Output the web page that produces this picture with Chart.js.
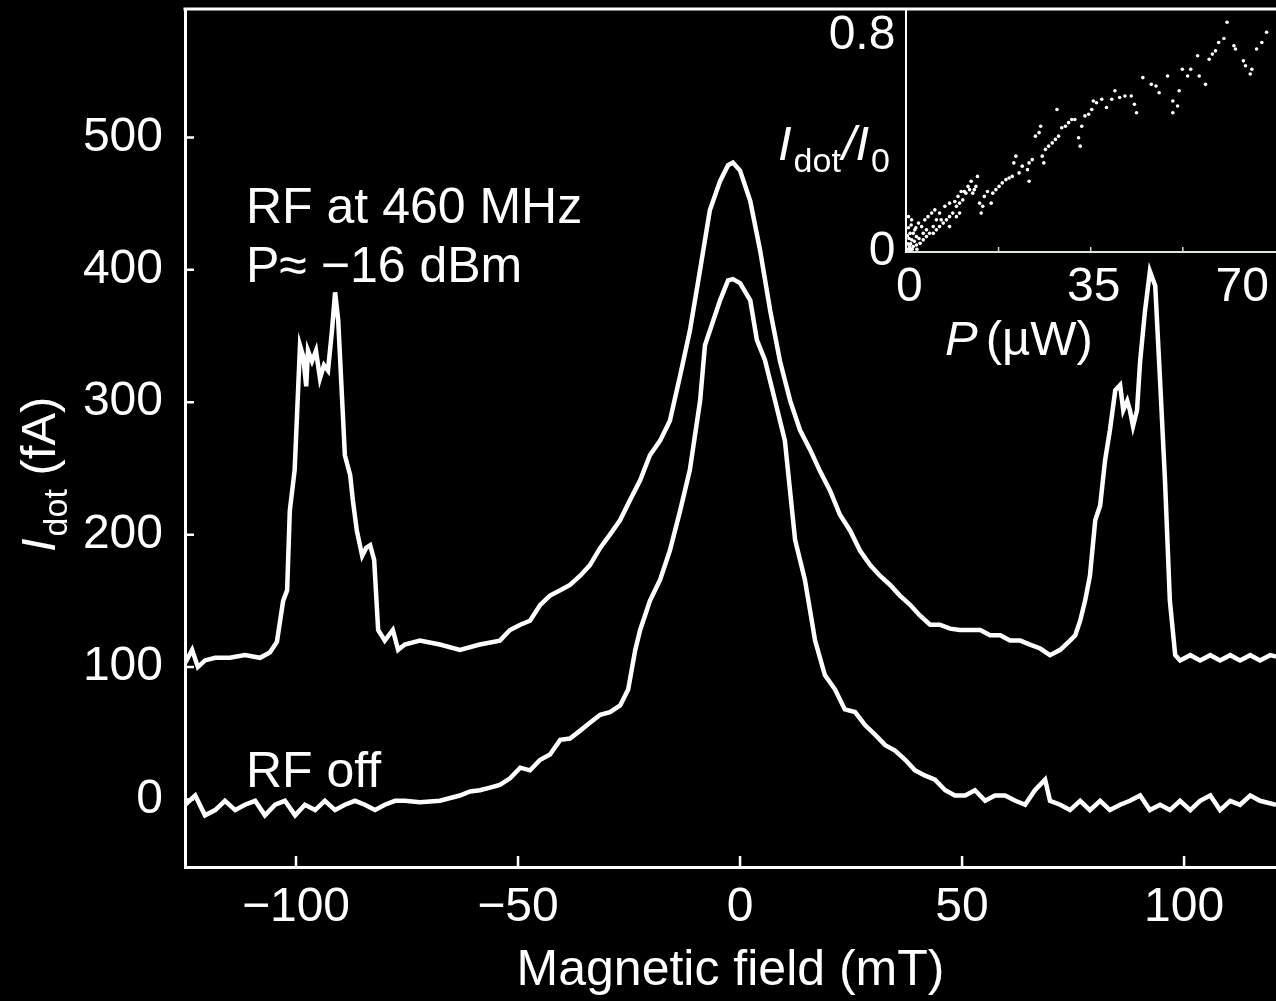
<!DOCTYPE html>
<html>
<head>
<meta charset="utf-8">
<script src="https://cdn.jsdelivr.net/npm/chart.js@4.4.0/dist/chart.umd.min.js"></script>
<style>
  html, body { margin: 0; padding: 0; background: #000; overflow: hidden; }
  #wrap { position: relative; width: 1276px; height: 1001px; overflow: hidden; }
  #main { position: absolute; left: 0; top: 0; }
  #inset { position: absolute; left: 760px; top: 0; }
</style>
</head>
<body>
<div id="wrap">
  <canvas id="main" width="1276" height="1001"></canvas>
  <canvas id="inset" width="519" height="400"></canvas>
</div>
<script>
// RF at 460 MHz trace (mT, fA)
const onField = [-125.0, -123.4, -122.1, -120.5, -118.2, -114.9, -111.5, -108.1, -105.9, -104.3, -102.9, -102.0, -101.4, -100.3, -99.1, -98.4, -97.7, -97.3, -96.4, -95.5, -94.6, -93.7, -92.8, -91.9, -91.2, -90.5, -89.6, -89.0, -87.8, -87.2, -86.3, -85.1, -84.2, -83.3, -82.4, -81.5, -80.0, -78.2, -77.0, -75.5, -72.1, -67.6, -63.1, -58.6, -54.1, -51.8, -49.5, -47.3, -45.0, -42.8, -40.5, -38.3, -36.0, -33.8, -31.5, -29.3, -27.0, -24.8, -22.5, -20.3, -18.0, -15.8, -13.5, -11.3, -9.0, -6.8, -4.5, -2.7, -1.6, 0, 2.3, 4.5, 6.8, 9.0, 11.3, 13.5, 15.8, 18.0, 20.3, 22.5, 24.8, 27.0, 29.3, 31.5, 33.8, 36.0, 38.3, 40.5, 42.8, 45.0, 47.3, 49.5, 51.8, 54.1, 56.3, 58.6, 60.8, 63.1, 65.3, 67.6, 69.8, 72.1, 74.3, 75.5, 76.6, 77.7, 78.8, 80.0, 81.1, 82.2, 83.3, 84.5, 85.6, 86.3, 87.2, 87.8, 88.5, 89.4, 90.1, 91.2, 92.3, 93.5, 94.6, 95.7, 96.8, 98.0, 99.1, 101.4, 103.6, 105.9, 108.1, 110.4, 112.6, 114.9, 117.1, 119.4, 120.7];
const onCurrent = [103, 113, 100, 105, 107, 107, 109, 107, 111, 119, 150, 158, 218, 249, 343, 335, 312, 339, 331, 339, 318, 328, 324, 354, 383, 362, 301, 260, 245, 226, 203, 184, 190, 192, 181, 128, 120, 128, 113, 117, 120, 117, 113, 117, 120, 128, 132, 135, 147, 154, 158, 162, 169, 177, 190, 200, 211, 226, 241, 260, 271, 286, 320, 354, 400, 445, 467, 479, 481, 475, 452, 415, 369, 331, 301, 279, 264, 248, 233, 215, 203, 188, 177, 169, 162, 154, 147, 139, 132, 132, 129, 128, 128, 128, 124, 124, 120, 120, 117, 114, 109, 113, 120, 124, 135, 150, 169, 211, 222, 256, 279, 309, 313, 294, 301, 294, 282, 294, 331, 369, 399, 388, 316, 241, 150, 109, 105, 109, 105, 109, 105, 109, 105, 109, 105, 109, 108];

// RF off trace (mT, fA)
const offField = [-125.0, -122.7, -120.5, -118.2, -116.0, -113.7, -111.5, -109.2, -107.0, -104.7, -102.5, -100.2, -98.0, -95.7, -93.5, -91.2, -89.0, -86.7, -84.5, -82.2, -80.0, -77.7, -75.5, -72.1, -67.6, -63.1, -60.8, -58.6, -56.3, -54.1, -51.8, -49.5, -47.3, -45.0, -42.8, -40.5, -38.3, -36.0, -33.8, -31.5, -29.3, -27.0, -25.2, -23.6, -22.5, -21.4, -20.3, -18.0, -15.8, -13.5, -11.3, -9.0, -7.9, -6.8, -4.5, -2.7, -1.6, 0, 2.3, 3.8, 5.6, 7.9, 10.1, 12.4, 14.6, 16.9, 19.1, 21.4, 23.6, 25.9, 28.2, 30.4, 32.7, 34.9, 37.2, 39.4, 41.7, 43.9, 46.2, 48.4, 50.7, 52.9, 55.2, 57.4, 59.7, 62.0, 64.2, 66.4, 68.7, 69.8, 72.1, 74.3, 76.6, 78.8, 81.1, 83.3, 85.6, 87.8, 90.1, 92.3, 94.6, 96.8, 99.1, 101.4, 103.6, 105.9, 108.1, 110.4, 112.6, 114.9, 117.1, 120.7];
const offCurrent = [-4, 3, -12, -8, -1, -8, -4, -1, -12, -4, -1, -12, -4, -8, -1, -8, -4, -1, -4, -8, -4, -1, -1, -2, -1, 3, 6, 7, 9, 11, 16, 24, 22, 30, 34, 45, 46, 52, 58, 64, 66, 71, 83, 113, 128, 139, 150, 166, 188, 218, 249, 301, 343, 354, 377, 392, 393, 390, 377, 347, 332, 301, 271, 196, 166, 120, 94, 83, 68, 66, 56, 49, 41, 37, 30, 22, 18, 15, 7, 3, 3, 7, -1, 3, 3, -1, -4, 7, 15, -1, -4, -8, -1, -8, -1, -8, -4, -1, 3, -8, -4, -8, -1, -8, -1, 3, -8, -1, -4, 3, -1, -4];

// inset: I_dot/I_0 against microwave power P (uW)
const insetP = [60.9, 60.3, 59.3, 62.2, 62.5, 58.7, 58.1, 57.5, 55.3, 54.0, 52.4, 53.4, 55.6, 56.8, 64.0, 64.4, 65.6, 65.3, 66.5, 67.5, 68.4, 44.9, 46.5, 47.4, 48.0, 49.6, 51.8, 50.6, 51.5, 50.6, 43.7, 43.3, 42.7, 41.5, 40.5, 39.6, 39.0, 38.0, 37.1, 36.1, 35.5, 35.2, 34.6, 33.9, 33.3, 33.0, 32.7, 32.0, 31.4, 30.8, 30.2, 29.5, 28.6, 28.9, 28.3, 27.7, 27.0, 26.4, 25.5, 25.2, 24.5, 25.8, 26.1, 23.9, 23.3, 23.0, 23.3, 22.0, 21.4, 20.8, 20.4, 20.1, 19.5, 18.9, 18.2, 17.6, 17.0, 16.4, 16.1, 15.4, 14.8, 14.5, 14.2, 13.9, 13.5, 13.2, 12.6, 12.0, 11.3, 10.7, 10.1, 9.5, 8.8, 8.2, 7.6, 7.0, 6.3, 5.7, 5.1, 4.4, 3.8, 3.2, 2.6, 1.9, 1.3, 0.7, 0.4, 0.7, 1.0, 1.6, 2.3, 2.9, 3.5, 4.1, 4.8, 5.4, 6.3, 7.3, 8.2, 9.2, 9.8, 10.4, 11.0, 11.7, 12.3, 12.9, 10.1, 9.5, 8.2, 6.6, 5.7, 5.1, 3.8, 3.2, 1.9, 1.3, 1.0, 0.7, 0.2, 0.3, 0.5, 0.8, 1.1, 0.4, 0.6, 1.5, 2.0, 2.4, 0.2, 1.8, 0.9];
const insetRatio = [0.851, 0.791, 0.776, 0.764, 0.752, 0.745, 0.733, 0.714, 0.727, 0.677, 0.677, 0.652, 0.652, 0.621, 0.708, 0.690, 0.677, 0.659, 0.752, 0.776, 0.814, 0.646, 0.621, 0.615, 0.590, 0.652, 0.597, 0.559, 0.541, 0.516, 0.516, 0.547, 0.578, 0.578, 0.572, 0.597, 0.566, 0.535, 0.566, 0.553, 0.559, 0.528, 0.510, 0.504, 0.466, 0.392, 0.423, 0.491, 0.491, 0.479, 0.466, 0.460, 0.528, 0.429, 0.417, 0.404, 0.392, 0.380, 0.466, 0.442, 0.429, 0.355, 0.330, 0.342, 0.330, 0.305, 0.262, 0.318, 0.293, 0.355, 0.330, 0.280, 0.274, 0.268, 0.256, 0.243, 0.231, 0.218, 0.181, 0.224, 0.206, 0.169, 0.144, 0.181, 0.280, 0.243, 0.218, 0.231, 0.218, 0.193, 0.181, 0.169, 0.144, 0.131, 0.119, 0.107, 0.094, 0.082, 0.069, 0.069, 0.057, 0.045, 0.032, 0.026, 0.020, 0.014, 0.131, 0.069, 0.045, 0.082, 0.107, 0.094, 0.119, 0.131, 0.144, 0.156, 0.144, 0.169, 0.181, 0.187, 0.206, 0.224, 0.224, 0.243, 0.262, 0.231, 0.144, 0.131, 0.094, 0.119, 0.119, 0.094, 0.082, 0.069, 0.057, 0.069, 0.119, 0.007, 0.010, 0.030, 0.050, 0.030, 0.010, 0.090, 0.020, 0.040, 0.010, 0.050, 0.060, 0.090, 0.100];

const xTicks = [-100, -50, 0, 50, 100];
const yTicks = [0, 100, 200, 300, 400, 500];
const insetXTicks = [0, 35, 70];
const insetXMinor = [17.5, 35, 52.5];
const insetYTicks = [0, 0.8];

const FONT = '"Liberation Sans", Arial, Helvetica, sans-serif';
const minus = v => String(v).replace('-', '\u2212');

function pairs(xs, ys) {
    return xs.map((x, i) => ({ x: x, y: ys[i] }));
}

// Chart.js keeps room for half a tick label at the axis ends; the figure does not
function noEdgePadding(s) {
    s.paddingTop = 0;
    s.paddingBottom = 0;
    s.paddingLeft = 0;
    s.paddingRight = 0;
}

// frame, inward ticks and labels for the main panel
const mainDecor = {
    id: 'mainDecor',
    afterDraw(chart) {
        const ctx = chart.ctx;
        const a = chart.chartArea;
        const sx = chart.scales.x, sy = chart.scales.y;
        ctx.save();
        ctx.strokeStyle = '#fff';
        ctx.lineWidth = 3;
        ctx.beginPath();
        ctx.moveTo(a.left - 1.5, a.top);
        ctx.lineTo(a.right, a.top);
        ctx.stroke();

        ctx.lineWidth = 2.5;
        ctx.beginPath();
        xTicks.forEach(v => {
            const p = sx.getPixelForValue(v);
            ctx.moveTo(p, a.bottom);
            ctx.lineTo(p, a.bottom - 11);
        });
        yTicks.forEach(v => {
            const p = sy.getPixelForValue(v);
            ctx.moveTo(a.left, p);
            ctx.lineTo(a.left + 9, p);
        });
        ctx.stroke();

        ctx.fillStyle = '#fff';
        ctx.font = '50px ' + FONT;
        ctx.textAlign = 'left';
        ctx.textBaseline = 'alphabetic';
        ctx.fillText('RF at 460 MHz', 246, 223);
        ctx.fillText('P\u2248 \u221216 dBm', 246, 282);
        ctx.fillText('RF off', 246, 787);

        // y axis title: I_dot (fA)
        ctx.translate(55, 552);
        ctx.rotate(-Math.PI / 2);
        let x = 0;
        ctx.font = 'italic 49px ' + FONT;
        ctx.fillText('I', x, 0);
        x += ctx.measureText('I').width + 2;
        ctx.font = '34px ' + FONT;
        ctx.fillText('dot', x, 12);
        x += ctx.measureText('dot').width;
        ctx.font = '49px ' + FONT;
        ctx.fillText(' (fA)', x, 0);
        ctx.restore();
    }
};

const insetDecor = {
    id: 'insetDecor',
    afterDraw(chart) {
        const ctx = chart.ctx;
        const a = chart.chartArea;
        const sx = chart.scales.x;
        ctx.save();
        ctx.strokeStyle = '#cfd8cf';
        ctx.lineWidth = 1.5;
        ctx.beginPath();
        insetXMinor.forEach(v => {
            const p = sx.getPixelForValue(v);
            ctx.moveTo(p, a.bottom);
            ctx.lineTo(p, a.bottom - 5);
        });
        ctx.stroke();

        ctx.fillStyle = '#fff';
        ctx.font = '48px ' + FONT;
        ctx.textBaseline = 'alphabetic';
        insetXTicks.forEach((v, i) => {
            const last = i === insetXTicks.length - 1;
            ctx.textAlign = last ? 'right' : 'center';
            ctx.fillText(String(v), sx.getPixelForValue(v) + (last ? -6 : 3), 301);
        });

        // x title: P (uW)
        ctx.textAlign = 'left';
        let x = 185;
        ctx.font = 'italic 49px ' + FONT;
        ctx.fillText('P', x, 355);
        x += ctx.measureText('P').width + 8;
        ctx.font = '49px ' + FONT;
        ctx.fillText('(\u00b5W)', x, 355);

        // y title: I_dot / I_0
        x = 18;
        ctx.font = 'italic 49px ' + FONT;
        ctx.fillText('I', x, 160);
        x += ctx.measureText('I').width + 2;
        ctx.font = '34px ' + FONT;
        ctx.fillText('dot', x, 172);
        x += ctx.measureText('dot').width + 1;
        ctx.font = 'italic 49px ' + FONT;
        ctx.fillText('/I', x, 160);
        x += ctx.measureText('/I').width + 2;
        ctx.font = '34px ' + FONT;
        ctx.fillText('0', x, 172);
        ctx.restore();
    }
};

Chart.defaults.color = '#fff';
Chart.defaults.font.family = FONT;
Chart.defaults.font.size = 48;

const lineStyle = {
    borderColor: '#fff',
    borderWidth: 4.5,
    pointRadius: 0,
    tension: 0,
    fill: false
};

new Chart(document.getElementById('main'), {
    type: 'line',
    data: {
        datasets: [
            Object.assign({ label: 'RF off', data: pairs(offField, offCurrent) }, lineStyle),
            Object.assign({ label: 'RF at 460 MHz', data: pairs(onField, onCurrent) }, lineStyle)
        ]
    },
    options: {
        responsive: false,
        animation: false,
        devicePixelRatio: 1,
        layout: { padding: { top: 9, left: 0, right: 0, bottom: 0 } },
        plugins: { legend: { display: false }, tooltip: { enabled: false } },
        scales: {
            x: {
                type: 'linear',
                min: -125,
                max: 120.7,
                grid: { display: false, drawTicks: false },
                border: { color: '#fff', width: 3 },
                afterFit: s => { noEdgePadding(s); s.height = 134; },
                afterBuildTicks: s => { s.ticks = xTicks.map(v => ({ value: v })); },
                ticks: {
                    padding: 12,
                    maxRotation: 0,
                    callback: v => minus(v)
                },
                title: {
                    display: true,
                    text: 'Magnetic field (mT)',
                    padding: { top: 0, bottom: 0 },
                    font: { size: 50 }
                }
            },
            y: {
                type: 'linear',
                min: -51,
                max: 597,
                grid: { display: false, drawTicks: false },
                border: { color: '#fff', width: 3 },
                afterFit: s => { noEdgePadding(s); s.width = 185; },
                afterBuildTicks: s => { s.ticks = yTicks.map(v => ({ value: v })); },
                ticks: { padding: 22, callback: v => minus(v) }
            }
        }
    },
    plugins: [mainDecor]
});

new Chart(document.getElementById('inset'), {
    type: 'scatter',
    data: {
        datasets: [{
            label: 'I_dot/I_0',
            data: pairs(insetP, insetRatio),
            backgroundColor: '#fff',
            borderWidth: 0,
            pointRadius: 1.8
        }]
    },
    options: {
        responsive: false,
        animation: false,
        devicePixelRatio: 1,
        layout: { padding: { top: 9, left: 0, right: 0, bottom: 0 } },
        plugins: { legend: { display: false }, tooltip: { enabled: false } },
        scales: {
            x: {
                type: 'linear',
                min: 0,
                max: 70,
                grid: { display: false, drawTicks: false },
                border: { color: '#dfe8df', width: 2 },
                afterFit: s => { noEdgePadding(s); s.height = 148; },
                ticks: { display: false }
            },
            y: {
                type: 'linear',
                min: 0,
                max: 0.9,
                grid: { display: false, drawTicks: false },
                border: { color: '#fff', width: 2 },
                afterFit: s => { noEdgePadding(s); s.width = 146.4; },
                afterBuildTicks: s => { s.ticks = insetYTicks.map(v => ({ value: v })); },
                ticks: { padding: 11, callback: v => String(v) }
            }
        }
    },
    plugins: [insetDecor]
});
</script>
</body>
</html>
